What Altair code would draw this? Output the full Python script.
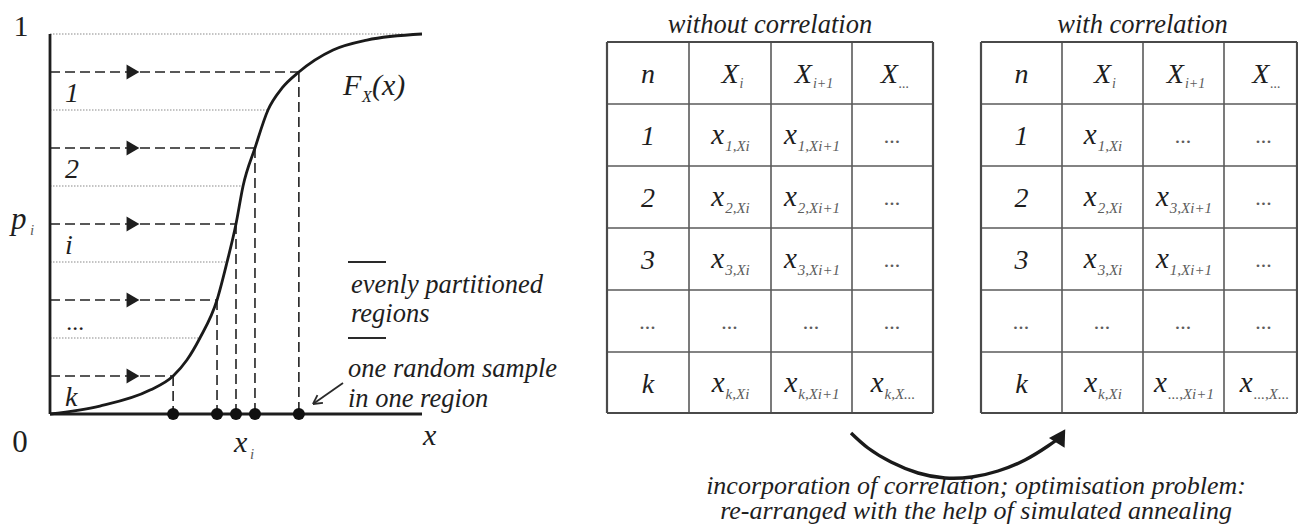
import math
import altair as alt
import pandas as pd

# ===================== DATA =====================
# Left panel: the CDF F_X(x); x is normalised along the x axis (0..1), p is probability
CDF_X = [0.0, 0.134, 0.269, 0.331, 0.368, 0.403, 0.449, 0.476, 0.5, 0.519,
         0.551, 0.586, 0.624, 0.669, 0.761, 0.852, 1.0]
CDF_P = [0.0, 0.021, 0.063, 0.1, 0.142, 0.2, 0.3, 0.4, 0.5, 0.6,
         0.7, 0.8, 0.858, 0.9, 0.958, 0.984, 1.0]
REGION_LOW = [0.0, 0.2, 0.4, 0.6, 0.8]
REGION_HIGH = [0.2, 0.4, 0.6, 0.8, 1.0]
REGION_HIGH_X = [0.403, 0.476, 0.519, 0.586, 0.95]   # where each upper boundary meets the curve
REGION_LABELS = ["k", "...", "i", "2", "1"]
SAMPLE_P = [0.1, 0.3, 0.5, 0.7, 0.9]
SAMPLE_X = [0.331, 0.449, 0.5, 0.551, 0.669]
LEGEND_TEXT = ["evenly partitioned", "regions", "one random sample", "in one region"]

# Tables: (main symbol, subscript)
TABLE_TITLES = ["without correlation", "with correlation"]
HEADER = [("n", ""), ("X", "i"), ("X", "i+1"), ("X", "...")]
ROW_LABELS = ["1", "2", "3", "...", "k"]
T1_CELLS = [
    [("x", "1,Xi"), ("x", "1,Xi+1"), ("...", "")],
    [("x", "2,Xi"), ("x", "2,Xi+1"), ("...", "")],
    [("x", "3,Xi"), ("x", "3,Xi+1"), ("...", "")],
    [("...", ""), ("...", ""), ("...", "")],
    [("x", "k,Xi"), ("x", "k,Xi+1"), ("x", "k,X...")],
]
T2_CELLS = [
    [("x", "1,Xi"), ("...", ""), ("...", "")],
    [("x", "2,Xi"), ("x", "3,Xi+1"), ("...", "")],
    [("x", "3,Xi"), ("x", "1,Xi+1"), ("...", "")],
    [("...", ""), ("...", ""), ("...", "")],
    [("x", "k,Xi"), ("x", "...,Xi+1"), ("x", "...,X...")],
]
CAPTION = ["incorporation of correlation; optimisation problem:",
           "re-arranged with the help of simulated annealing"]

# ===================== LAYOUT (page pixel frame) =====================
FONT = "Liberation Serif"
INK = "#1e1e1e"
SUBINK = "#5c5c5c"
W, H = 1290, 516
XS = alt.Scale(domain=[8, 8 + W], range=[0, W], nice=False, zero=False)
YS = alt.Scale(domain=[8, 8 + H], range=[0, H], nice=False, zero=False)

PX0, PY0, PW, PH = 50, 414, 372, 380   # left panel origin / size


def fx(v):
    return PX0 + PW * v


def fy(p):
    return PY0 - PH * p


T1_COLS = [607, 689, 771, 852, 933]
T2_COLS = [981, 1062, 1143, 1224, 1304]
ROWS = [42, 104, 166, 228, 290, 352, 413]
X_LIMIT = 1297

# Times-Italic advance widths (per 1000 em) for centring composite labels
TW = {" ": 250, ",": 250, ".": 250, "+": 675, "(": 333, ")": 333, "X": 611, "F": 611,
      "x": 444, "n": 500, "k": 444, "i": 278, "1": 500, "2": 500, "3": 500}


def tw(s, fs):
    return sum(TW.get(c, 500) for c in s) / 1000.0 * fs


texts = []  # x, y, t, s, c, style, align


def add_text(x, y, t, s, c=INK, style="italic", align="left"):
    texts.append(dict(x=x, y=y, t=t, s=s, c=c, style=style, align=align))


def add_composite(cx, base, main, sub, fm, fs, sub_dy):
    if sub == "":
        if main == "...":
            add_text(cx, base - 1, main, 22, SUBINK, align="center")
        else:
            add_text(cx, base, main, fm, INK, align="center")
        return
    wm, ws = tw(main, fm), tw(sub, fs)
    left = cx - (wm + ws) / 2.0
    add_text(left, base, main, fm, INK)
    add_text(left + wm + 1, base + sub_dy, sub, fs, SUBINK)


solid, dashed, dotted, thick, grid_in, grid_out = [], [], [], [], [], []

# ---- left panel ----
for lo, hi, hx in zip(REGION_LOW, REGION_HIGH, REGION_HIGH_X):
    dotted.append(dict(x=fx(0), y=fy(hi), x2=fx(hx), y2=fy(hi)))
for sx, sp in zip(SAMPLE_X, SAMPLE_P):
    dashed.append(dict(x=fx(0), y=fy(sp), x2=fx(sx), y2=fy(sp)))
    dashed.append(dict(x=fx(sx), y=fy(sp), x2=fx(sx), y2=fy(0)))
thick.append(dict(x=fx(0), y=fy(0), x2=fx(0), y2=fy(1)))
thick.append(dict(x=fx(0), y=fy(0), x2=fx(1), y2=fy(0)))
for ly in [262, 338]:
    solid.append(dict(x=348, y=ly, x2=386, y2=ly))
# small pointer arrow
tail, tip = (343, 383), (313, 404)
solid.append(dict(x=tail[0], y=tail[1], x2=tip[0], y2=tip[1]))
ang = math.atan2(tail[1] - tip[1], tail[0] - tip[0])
for d in (0.5, -0.5):
    solid.append(dict(x=tip[0], y=tip[1], x2=tip[0] + 10 * math.cos(ang + d),
                      y2=tip[1] + 10 * math.sin(ang + d)))

arrows = pd.DataFrame(dict(x=[fx(0.223)] * len(SAMPLE_P), y=[fy(p) for p in SAMPLE_P]))
dots = pd.DataFrame(dict(x=[fx(v) for v in SAMPLE_X], y=[fy(0)] * len(SAMPLE_X)))
cdf = pd.DataFrame(dict(x=[fx(v) for v in CDF_X], y=[fy(p) for p in CDF_P]))

for lab, lo in zip(REGION_LABELS, REGION_LOW):
    if lab == "...":
        add_text(fx(0.045), fy(lo + 0.021), lab, 24)
    else:
        add_text(fx(0.04), fy(lo + 0.021), lab, 28)
add_text(21, 36, "1", 30, style="normal", align="center")
add_text(20, 452, "0", 31, style="normal", align="center")
add_text(11, 229, "p", 31)
add_text(30, 235, "i", 15, SUBINK)
add_text(234, 452, "x", 30)
add_text(250, 459, "i", 15, SUBINK)
add_text(423, 445, "x", 30)
add_text(343, 95, "F", 30)
add_text(362, 102, "X", 16, INK)
add_text(372, 95, "(x)", 30)
for t, (lx, ly) in zip(LEGEND_TEXT, [(351, 293), (351, 322), (348, 377), (348, 407)]):
    add_text(lx, ly, t, 26.5)

# ---- tables ----
for cols, cells, title in [(T1_COLS, T1_CELLS, TABLE_TITLES[0]),
                           (T2_COLS, T2_CELLS, TABLE_TITLES[1])]:
    right = min(cols[-1], X_LIMIT)
    for i, c in enumerate(cols):
        c = min(c, X_LIMIT)
        (grid_out if i in (0, len(cols) - 1) else grid_in).append(
            dict(x=c, y=ROWS[0], x2=c, y2=ROWS[-1]))
    for j, r in enumerate(ROWS):
        (grid_out if j in (0, len(ROWS) - 1) else grid_in).append(
            dict(x=cols[0], y=r, x2=right, y2=r))
    centres = [(cols[k] + cols[k + 1]) / 2.0 for k in range(4)]
    rcent = [(ROWS[k] + ROWS[k + 1]) / 2.0 for k in range(6)]
    add_text((cols[0] + cols[-1]) / 2.0, 33, title, 26.5, align="center")
    for k, (m, s) in enumerate(HEADER):
        add_composite(centres[k] + (2 if s else 0), rcent[0] + 10, m, s, 28, 14, 5)
    for r in range(5):
        lab = ROW_LABELS[r]
        if lab == "...":
            add_text(centres[0], rcent[r + 1] + 8, lab, 22, SUBINK, align="center")
        else:
            add_text(centres[0], rcent[r + 1] + 10, lab, 28, align="center")
        for k in range(3):
            m, s = cells[r][k]
            add_composite(centres[k + 1], rcent[r + 1] + 9, m, s, 29, 15, 7)

# ---- curved arrow + caption ----
arc = pd.DataFrame(dict(x=[851, 868, 891, 918, 945, 972, 998, 1025, 1048, 1058],
                        y=[433, 448, 462, 473, 478, 477, 471, 460, 446, 439]))
head = pd.DataFrame(dict(x=[1061], y=[436]))
for t, b in zip(CAPTION, [494, 519]):
    add_text(976, b, t, 26, align="center")


# ===================== CHART =====================
def enc_xy(ch):
    return ch.encode(x=alt.X("x:Q", scale=XS, axis=None), y=alt.Y("y:Q", scale=YS, axis=None))


def rules(rows, **kw):
    return alt.Chart(pd.DataFrame(rows)).mark_rule(**kw).encode(
        x=alt.X("x:Q", scale=XS, axis=None), y=alt.Y("y:Q", scale=YS, axis=None),
        x2="x2:Q", y2="y2:Q")


layers = [
    rules(dotted, color="#8a8a8a", strokeWidth=1.2, strokeDash=[1.5, 1.5]),
    rules(dashed, color="#222222", strokeWidth=1.6, strokeDash=[10, 5]),
    rules(grid_in, color="#5a5a5a", strokeWidth=1.6),
    rules(grid_out, color="#4a4a4a", strokeWidth=2.2),
    rules(thick, color="#1e1e1e", strokeWidth=2.8),
    rules(solid, color="#2a2a2a", strokeWidth=1.8),
    enc_xy(alt.Chart(cdf).mark_line(interpolate="monotone", color="#1a1a1a", strokeWidth=2.8)),
    enc_xy(alt.Chart(arc).mark_line(interpolate="natural", color="#1a1a1a", strokeWidth=3.4)),
    enc_xy(alt.Chart(head).mark_point(shape="triangle-up", filled=True, size=340,
                                      angle=32, color="#1a1a1a", opacity=1)),
    enc_xy(alt.Chart(arrows).mark_point(shape="triangle-right", filled=True, size=220,
                                        color="#1e1e1e", opacity=1)),
    enc_xy(alt.Chart(dots).mark_circle(size=145, color="#111111", opacity=1)),
]

tdf = pd.DataFrame(texts)
for (style, align), g in tdf.groupby(["style", "align"]):
    layers.append(
        alt.Chart(g.drop(columns=["style", "align"])).mark_text(
            font=FONT, fontStyle=style, align=align, baseline="alphabetic").encode(
            x=alt.X("x:Q", scale=XS, axis=None), y=alt.Y("y:Q", scale=YS, axis=None),
            text="t:N", size=alt.Size("s:Q", scale=None), color=alt.Color("c:N", scale=None)))

chart = alt.layer(*layers).properties(
    width=W, height=H, padding=0, autosize="none", background="white"
).configure_view(stroke=None)

chart.save("out.html", embed_options={"renderer": "svg", "actions": False})
